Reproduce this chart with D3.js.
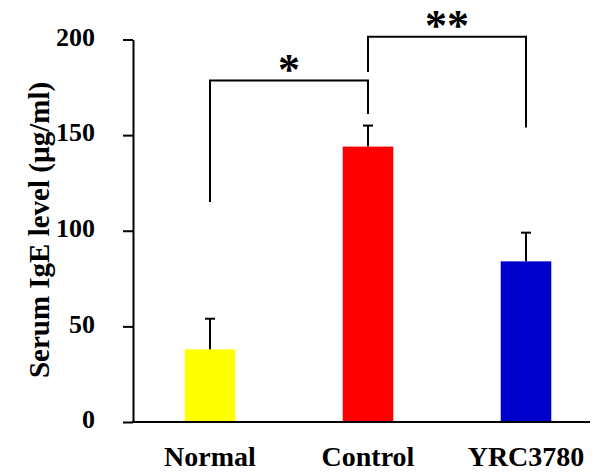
<!DOCTYPE html>
<html lang="en">
<head>
  <meta charset="UTF-8">
  <title>Serum IgE level</title>
  <script src="https://d3js.org/d3.v7.min.js"></script>
  <style>
    body { margin: 0; background: #fff; }
    text { font-family: "Liberation Serif", "Times New Roman", serif; font-weight: bold; fill: #000; }
    .y-axis text { font-size: 26px; }
    .y-axis line, .y-axis path { stroke: #000; stroke-width: 2; }
    .x-label { font-size: 28px; }
    .axis-title { font-size: 29px; }
    .star { font-size: 44px; }
  </style>
</head>
<body>
  <script>
    // data
    const groups = ["Normal", "Control", "YRC3780"];
    const means = [38, 144, 84];
    const errors = [16, 11, 15];
    const colors = ["#ffff00", "#ff0000", "#0000cc"];
    const yTicks = [0, 50, 100, 150, 200];

    // significance brackets: [from group, to group, top, left end, right end, label]
    const brackets = [
      ["Normal", "Control", 178.5, 115, 161, "*"],
      ["Control", "YRC3780", 201.5, 183, 154, "**"]
    ];

    //dimensions
    const width = 593, height = 473;
    const axisX = 133;

    const svg = d3.select("body")
                  .append("svg")
                  .attr("width", width)
                  .attr("height", height);

    //scales
    const x = d3.scaleBand()
                .domain(groups)
                .range([131, 605])
                .paddingInner(0.68)
                .paddingOuter(0.34);

    const y = d3.scaleLinear()
                .domain([0, 200])
                .range([422, 39.5]);

    // y-axis
    const yAxis = svg.append("g")
       .attr("class", "y-axis")
       .attr("transform", `translate(${axisX},0)`)
       .call(d3.axisLeft(y).tickValues(yTicks).tickSize(10).tickSizeOuter(0).tickPadding(28));
    yAxis.selectAll("text").attr("dy", "0.22em");

    // x-axis line
    svg.append("line")
       .attr("x1", axisX - 1)
       .attr("x2", 590)
       .attr("y1", y(0))
       .attr("y2", y(0))
       .attr("stroke", "#000")
       .attr("stroke-width", 2);

    // bars
    svg.selectAll(".bar")
       .data(groups)
       .enter()
       .append("rect")
       .attr("class", "bar")
       .attr("x", d => x(d))
       .attr("y", (d, i) => y(means[i]))
       .attr("width", x.bandwidth())
       .attr("height", (d, i) => y(0) - y(means[i]) - 1)
       .attr("fill", (d, i) => colors[i]);

    // error bars
    const cx = d => x(d) + x.bandwidth() / 2;
    const err = svg.append("g").attr("stroke", "#000").attr("stroke-width", 2);
    groups.forEach((g, i) => {
      err.append("line")
         .attr("x1", cx(g)).attr("x2", cx(g))
         .attr("y1", y(means[i])).attr("y2", y(means[i] + errors[i]));
      err.append("line")
         .attr("x1", cx(g) - 5).attr("x2", cx(g) + 5)
         .attr("y1", y(means[i] + errors[i])).attr("y2", y(means[i] + errors[i]));
    });

    // significance brackets
    brackets.forEach(([a, b, top, leftEnd, rightEnd, label]) => {
      const x1 = cx(a), x2 = cx(b);
      svg.append("path")
         .attr("d", `M${x1},${y(leftEnd)}V${y(top)}H${x2}V${y(rightEnd)}`)
         .attr("fill", "none")
         .attr("stroke", "#000")
         .attr("stroke-width", 2);
      svg.append("text")
         .attr("class", "star")
         .attr("x", (x1 + x2) / 2)
         .attr("y", y(top) + 3)
         .attr("text-anchor", "middle")
         .text(label);
    });

    // x labels
    svg.selectAll(".x-label")
       .data(groups)
       .enter()
       .append("text")
       .attr("class", "x-label")
       .attr("x", d => cx(d))
       .attr("y", 466)
       .attr("text-anchor", "middle")
       .text(d => d);

    // y-axis title
    svg.append("text")
       .attr("class", "axis-title")
       .attr("transform", `translate(49,230) rotate(-90)`)
       .attr("text-anchor", "middle")
       .text("Serum IgE level (µg/ml)");
  </script>
</body>
</html>
